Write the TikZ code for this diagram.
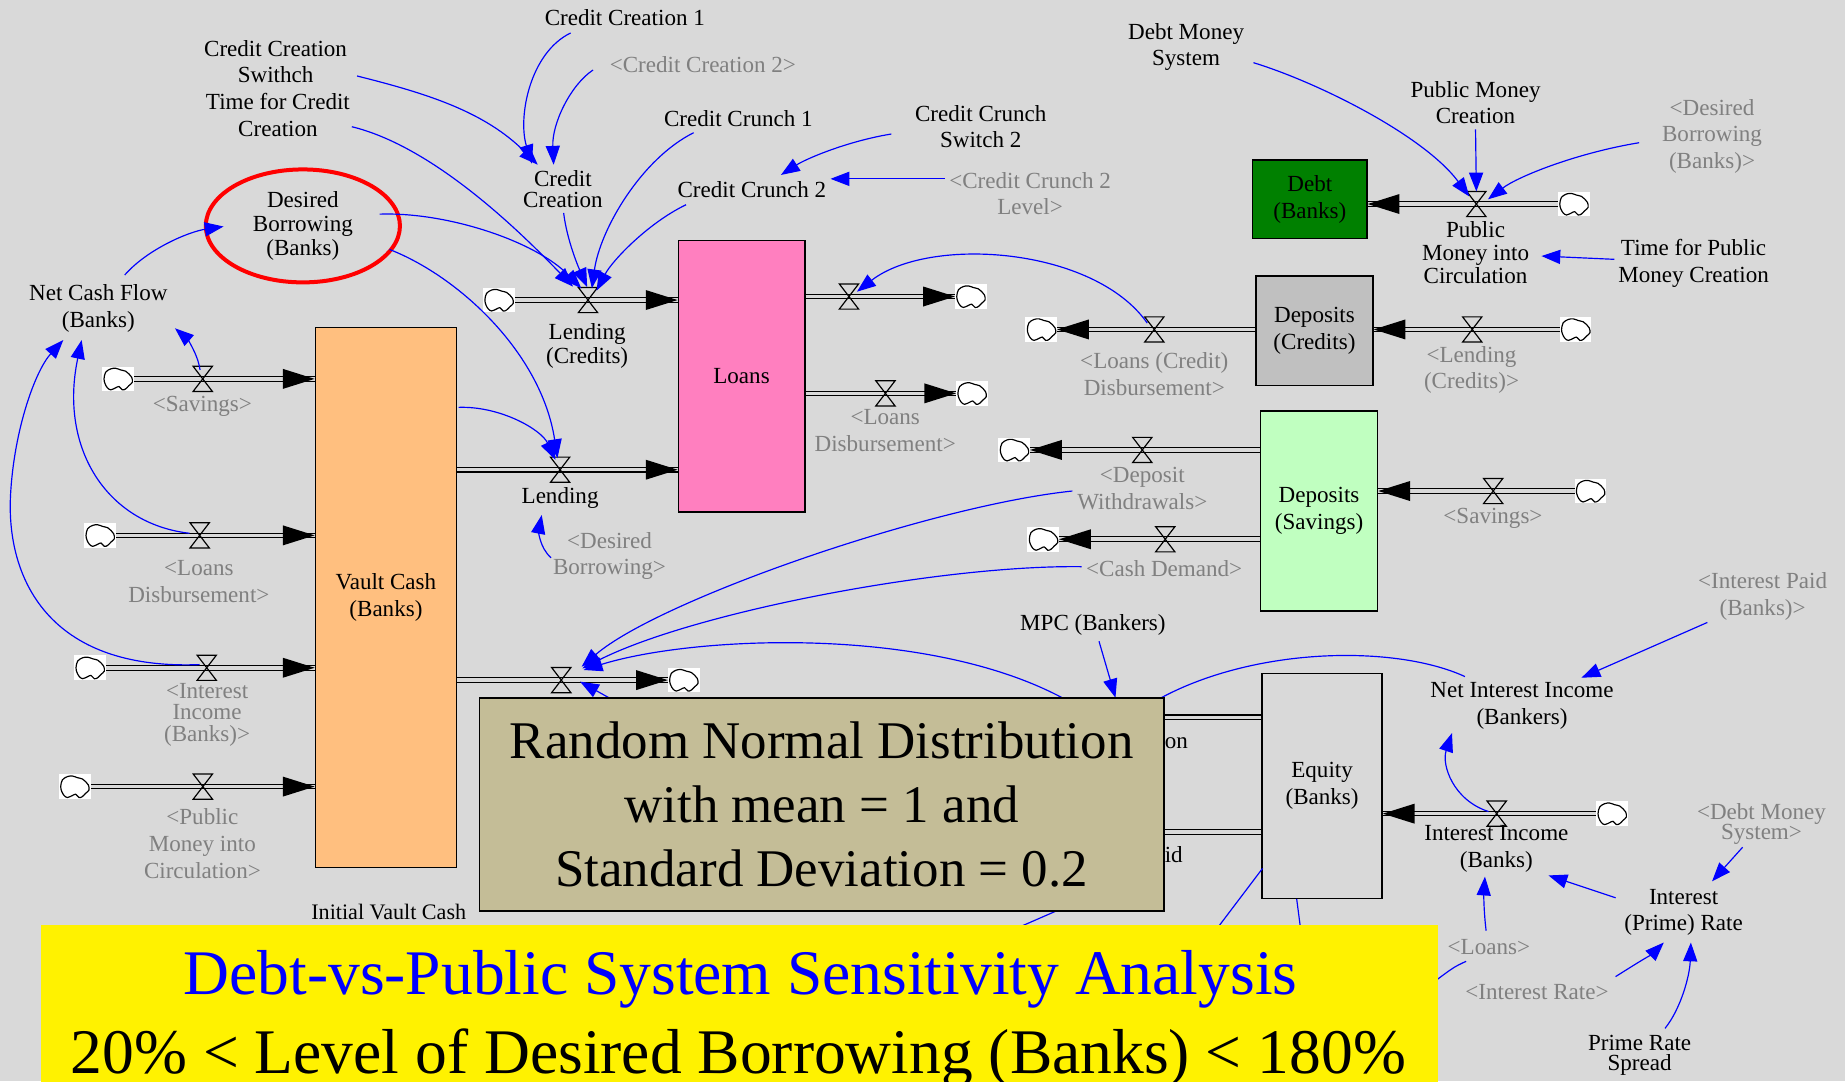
\documentclass[tikz,border=0pt]{standalone}
\usepackage{fontspec}
\setmainfont{Liberation Serif}
\usetikzlibrary{arrows.meta,shapes.geometric}

\definecolor{bgc}{RGB}{217,217,217}
\definecolor{txtgray}{RGB}{128,128,128}
\definecolor{linkblue}{RGB}{0,0,255}
\definecolor{vaultc}{RGB}{255,191,127}
\definecolor{loansc}{RGB}{255,127,191}
\definecolor{debtc}{RGB}{0,128,0}
\definecolor{depcredc}{RGB}{192,192,192}
\definecolor{depsavc}{RGB}{192,255,192}
\definecolor{notec}{RGB}{196,189,151}

\newcommand\tightlines{\lineskiplimit=-20pt\relax}

\tikzset{
  lbl/.style={align=center, inner sep=1pt, text=black, font=\fontsize{9.8}{11.35}\selectfont},
  ls/.style={font={\fontsize{9.8}{#1}\selectfont\tightlines}},
  glbl/.style={lbl, text=txtgray},
  stock/.style={draw=black, line width=0.6pt, rectangle, align=center, inner sep=1pt,
    font=\fontsize{9.8}{11.35}\selectfont},
  pipe/.style={draw=black, line width=0.45pt, double=bgc, double distance=1.5pt},
  valvenode/.style={inner sep=0pt, minimum width=7.8pt, minimum height=10.3pt},
  valveline/.style={draw=black, line width=0.5pt},
  cloudnode/.style={inner sep=0pt, minimum width=13pt, minimum height=10.5pt},
  link/.style={draw=linkblue, line width=0.5pt, -{Triangle[length=8pt,width=6pt]}},
  plainlink/.style={draw=linkblue, line width=0.5pt},
  cloudshape/.pic={
    \fill[white] (-13.5,-10.5) rectangle (13.5,10.5);
    \draw[line width=0.5pt, fill=white] plot[smooth cycle, tension=0.55] coordinates
      {(-10.5,-5.7) (-6.2,-8.5) (-2,-9) (2.3,-7.6) (6.5,-6.5) (9.3,-4.2) (11.6,-1.4)
       (12.2,2.8) (9.3,5.7) (6.5,8.5) (3.7,9.3) (0.8,6.5) (-2,7.6) (-6.2,9.3)
       (-9,7.6) (-11,4.2) (-11.9,0)};
  }
}

% flow heads: filled triangles with the tip on the given point
\newcommand\headR[1]{\fill[black] #1 -- ++(-27,-8.5) -- ++(0,17) -- cycle;}
\newcommand\headL[1]{\fill[black] #1 -- ++(27,-8.5) -- ++(0,17) -- cycle;}

\begin{document}
\begin{tikzpicture}[x=0.5pt,y=-0.5pt]
\useasboundingbox (0,0) rectangle (1568,919);
\fill[bgc] (0,0) rectangle (1568,919);

% ---------- stocks ----------
\node[stock, fill=vaultc, minimum width=60pt, minimum height=229.5pt] (vault) at (328,508) {Vault Cash\\(Banks)};
\node[stock, fill=loansc, minimum width=53.8pt, minimum height=115.25pt] (loans) at (630.2,319.75) {Loans};
\node[stock, fill=debtc, minimum width=48.55pt, minimum height=33.25pt] (debt) at (1113.2,169.25) {Debt\\(Banks)};
\node[stock, fill=depcredc, minimum width=49.7pt, minimum height=46.6pt] (depcred) at (1117.1,281.2) {Deposits\\(Credits)};
\node[stock, fill=depsavc, minimum width=49.75pt, minimum height=85pt] (depsav) at (1121,434.3) {Deposits\\(Savings)};
\node[stock, fill=bgc, minimum width=51pt, minimum height=95.6pt] (equity) at (1123.6,667.8) {Equity\\(Banks)};

% ---------- clouds (sources and sinks) ----------
\node[cloudnode] (cSav1) at (100.3,322) {};
\node[cloudnode] (cLD1) at (85,455) {};
\node[cloudnode] (cII1) at (76.5,567.5) {};
\node[cloudnode] (cPM1) at (63.5,668.5) {};
\node[cloudnode] (cLC) at (424,255) {};
\node[cloudnode] (cVO) at (581,578) {};
\node[cloudnode] (cLO1) at (825,252) {};
\node[cloudnode] (cLO2) at (826,334.3) {};
\node[cloudnode] (cLCD) at (885,280) {};
\node[cloudnode] (cLC2) at (1339,280) {};
\node[cloudnode] (cPM) at (1337.5,173.4) {};
\node[cloudnode] (cDW) at (862,382.4) {};
\node[cloudnode] (cCD) at (886.7,458.3) {};
\node[cloudnode] (cSav2) at (1351.6,417.3) {};
\node[cloudnode] (cII2) at (1370,691.5) {};

% ---------- valves ----------
\node[valvenode] (vSav1) at (172.3,322) {};
\node[valvenode] (vLD1) at (169.7,455) {};
\node[valvenode] (vII1) at (175.7,567.5) {};
\node[valvenode] (vPM1) at (172.4,668.5) {};
\node[valvenode] (vLC) at (499.7,255) {};
\node[valvenode] (vLend) at (476,399.2) {};
\node[valvenode] (vVO) at (477,578) {};
\node[valvenode] (vLO1) at (721.5,252) {};
\node[valvenode] (vLO2) at (752.5,334.3) {};
\node[valvenode] (vLCD) at (981,280) {};
\node[valvenode] (vLC2) at (1251.2,280) {};
\node[valvenode] (vPM) at (1254.7,173.4) {};
\node[valvenode] (vDW) at (970.8,382.4) {};
\node[valvenode] (vCD) at (990.3,458.3) {};
\node[valvenode] (vSav2) at (1269,417.3) {};
\node[valvenode] (vII2) at (1272,691.5) {};

% pipe ends that run under the note box
\coordinate (hP1) at (900,609.6);
\coordinate (hP2) at (900,707.3);

% ---------- pipes ----------
\draw[pipe] (cSav1) -- (vault.west |- cSav1);
\draw[pipe] (cLD1) -- (vault.west |- cLD1);
\draw[pipe] (cII1) -- (vault.west |- cII1);
\draw[pipe] (cPM1) -- (vault.west |- cPM1);
\draw[pipe] (cLC) -- (loans.west |- cLC);
\draw[pipe] (vault.east |- vLend) -- (loans.west |- vLend);
\draw[pipe] (vault.east |- vVO) -- (cVO);
\draw[pipe] (loans.east |- vLO1) -- (cLO1);
\draw[pipe] (loans.east |- vLO2) -- (cLO2);
\draw[pipe] (depcred.west |- vLCD) -- (cLCD);
\draw[pipe] (cLC2) -- (depcred.east |- vLC2);
\draw[pipe] (cPM) -- (debt.east |- vPM);
\draw[pipe] (depsav.west |- vDW) -- (cDW);
\draw[pipe] (depsav.west |- vCD) -- (cCD);
\draw[pipe] (cSav2) -- (depsav.east |- vSav2);
\draw[pipe] (equity.west |- hP1) -- (hP1);
\draw[pipe] (equity.west |- hP2) -- (hP2);
\draw[pipe] (cII2) -- (equity.east |- vII2);

% ---------- flow heads ----------
\headR{(vault.west |- vSav1)}
\headR{(vault.west |- vLD1)}
\headR{(vault.west |- vII1)}
\headR{(vault.west |- vPM1)}
\headR{(loans.west |- vLC)}
\headR{(loans.west |- vLend)}
\headR{(cVO.west)}
\headR{(cLO1.west)}
\headR{(cLO2.west)}
\headL{(cLCD.east)}
\headL{(depcred.east |- vLC2)}
\headL{(debt.east |- vPM)}
\headL{(cDW.east)}
\headL{(cCD.east)}
\headL{(depsav.east |- vSav2)}
\headL{(equity.east |- vII2)}

% ---------- cloud icons and valve symbols ----------
\foreach \c in {cSav1,cLD1,cII1,cPM1,cLC,cVO,cLO1,cLO2,cLCD,cLC2,cPM,cDW,cCD,cSav2,cII2}
  \pic at (\c) {cloudshape};
\foreach \v in {vSav1,vLD1,vII1,vPM1,vLC,vLend,vVO,vLO1,vLO2,vLCD,vLC2,vPM,vDW,vCD,vSav2,vII2}
  \draw[valveline] (\v.north west) -- (\v.north east) -- (\v.south west) -- (\v.south east) -- cycle;

% ---------- variables ----------
\node[lbl] (cc1) at (531,15) {Credit Creation 1};
\node[glbl] (cc2g) at (597.3,55.2) {<Credit Creation 2>};
\node[lbl] (ccs) at (234.2,52.3) {Credit Creation\\Swithch};
\node[lbl] (tcc) at (236.2,97.7) {Time for Credit\\Creation};
\node[lbl, ls=9pt] (cc) at (478.4,161) {Credit\\Creation};
\node[lbl] (ccr1) at (627.5,100.6) {Credit Crunch 1};
\node[lbl] (ccs2) at (833.5,107.6) {Credit Crunch\\Switch 2};
\node[lbl] (ccr2) at (639,161.5) {Credit Crunch 2};
\node[glbl] (ccl) at (875.4,164.6) {<Credit Crunch 2\\Level>};
\node[lbl] (dms) at (1008,40) {Debt Money\\System};
\node[lbl] (pmc) at (1254,87.2) {Public Money\\Creation};
\node[glbl] (dbg) at (1455,115.8) {<Desired\\Borrowing\\(Banks)>};
\node[lbl, ls=9.75pt] (pmic) at (1254,215) {Public\\Money into\\Circulation};
\node[lbl] (tpmc) at (1439.3,224.1) {Time for Public\\Money Creation};
\node[ellipse, draw=red, line width=1.7pt, minimum width=82.5pt, minimum height=48pt,
      inner sep=0pt, align=center, font={\fontsize{9.8}{10.3}\selectfont}] (db) at (257.4,192) {Desired\\Borrowing\\(Banks)};
\node[lbl] (ncf) at (83.6,262) {Net Cash Flow\\(Banks)};
\node[lbl, ls=10.6pt] (lc) at (499,294) {Lending\\(Credits)};
\node[glbl] (sav1) at (172,345) {<Savings>};
\node[glbl] (ld1) at (169,494.5) {<Loans\\Disbursement>};
\node[glbl, ls=9.25pt] (iib) at (176,607.5) {<Interest\\Income\\(Banks)>};
\node[glbl] (pmicg) at (172,717) {<Public\\Money into\\Circulation>};
\node[lbl] (lend) at (476,423) {Lending};
\node[glbl] (dbg2) at (518,472.4) {<Desired\\Borrowing>};
\node[glbl] (ld2) at (752.3,366) {<Loans\\Disbursement>};
\node[glbl] (lcd) at (981,318) {<Loans (Credit)\\Disbursement>};
\node[glbl] (lcg) at (1250.6,314.4) {<Lending\\(Credits)>};
\node[glbl] (dw) at (970.8,415.3) {<Deposit\\Withdrawals>};
\node[glbl] (cd) at (989.4,483.6) {<Cash Demand>};
\node[glbl] (sav2) at (1268.8,440.5) {<Savings>};
\node[glbl] (ipb) at (1498,507) {<Interest Paid\\(Banks)>};
\node[lbl] (mpc) at (928.8,531) {MPC (Bankers)};
\node[lbl] (nii) at (1293.5,600) {Net Interest Income\\(Bankers)};
\node[lbl] (iiBanks) at (1271.7,721.3) {Interest Income\\(Banks)};
\node[glbl, ls=8.5pt] (dmsg) at (1497,700.3) {<Debt Money\\System>};
\node[lbl] (ipr) at (1430.8,775.5) {Interest\\(Prime) Rate};
\node[glbl] (loansg) at (1265.3,804.5) {<Loans>};
\node[glbl] (irg) at (1306.2,842.8) {<Interest Rate>};
\node[lbl, ls=8.5pt] (prs) at (1393.4,896.5) {Prime Rate\\Spread};
\node[lbl, font={\fontsize{9.4}{11}\selectfont}] (ivc) at (330.4,774.8) {Initial Vault Cash};

% link ends hidden under the boxes
\coordinate (hA) at (915,600);
\coordinate (hB) at (530,600);
\coordinate (hC) at (948,593);
\coordinate (hD) at (960,610);
\coordinate (hE) at (1205,845);
\coordinate (hF) at (1020,808);
\coordinate (hG) at (1108,810);
\coordinate (hH) at (905,771);
\coordinate (hI) at (850,795);
\coordinate (mII) at (9,420);

% ---------- causal links ----------
\draw[link] ([shift={(69.3,12.3)}]ccs.center) .. controls (363.5,79.6) and (412,95) .. ([shift={(-21.4,-21)}]cc.center);
\draw[link] ([shift={(-46,13)}]cc1.center) .. controls (450,45) and (440,100) .. ([shift={(-26.4,-22)}]cc.center);
\draw[link] ([shift={(-93.3,4.3)}]cc2g.center) .. controls (485,72) and (469,105) .. ([shift={(-7.9,-21)}]cc.center);
\draw[link] ([shift={(62.8,10)}]tcc.center) .. controls (370,125) and (445,200) .. ([shift={(-12.7,-11.4)}]vLC.center);
\draw[link] ([shift={(65.2,-10)}]db.center) .. controls (380,180) and (455,205) .. ([shift={(-5.7,-10)}]vLC.center);
\draw[link] ([shift={(0.6,20)}]cc.center) .. controls (482,205) and (492,228) .. ([shift={(-0.7,-11)}]vLC.center);
\draw[link] ([shift={(-38,12.2)}]ccr1.center) .. controls (545,135) and (510,195) .. ([shift={(3.3,-10)}]vLC.center);
\draw[link] ([shift={(-56,12.5)}]ccr2.center) .. controls (550,190) and (520,222) .. ([shift={(7.3,-8)}]vLC.center);
\draw[link] ([shift={(-76,6.3)}]ccs2.center) .. controls (720,120) and (685,135) .. ([shift={(24.7,-12.8)}]ccr2.center);
\draw[link] ([shift={(-72.4,-12.6)}]ccl.center) -- ([shift={(66.8,-9.5)}]ccr2.center);
\draw[link] ([shift={(73.6,20)}]db.center) .. controls (390,235) and (460,300) .. ([shift={(-2.2,-9.9)}]vLend.center);
\draw[link] ([shift={(61.8,-161.8)}]vault.center) .. controls (425,345) and (460,365) .. ([shift={(-4,-8.4)}]vLend.center);
\draw[link] ([shift={(-49.7,1.6)}]dbg2.center) .. controls (458,465) and (458,450) .. ([shift={(-15.6,14.7)}]lend.center);
\draw[link] ([shift={(22.4,-28.3)}]ncf.center) .. controls (125,212) and (160,197) .. ([shift={(-67.4,0.5)}]db.center);
\draw[link] ([shift={(-2.3,-7.6)}]vSav1.center) .. controls (168,300) and (158,287) .. ([shift={(65.1,17)}]ncf.center);
\draw[link] ([shift={(-8.7,-1.8)}]vLD1.center) .. controls (90,445) and (50,380) .. ([shift={(-14.2,27)}]ncf.center);
\draw[link] ([shift={(-6,-2.7)}]vII1.center) .. controls (40,570) and (5,490) .. (mII)
   .. controls (12,365) and (30,315) .. ([shift={(-29.8,27)}]ncf.center);
\draw[link] ([shift={(-6,-5.4)}]vLCD.center) .. controls (930,210) and (790,200) .. ([shift={(6.8,-4.1)}]vLO1.center);
\draw[link] ([shift={(57.3,13.3)}]dms.center) .. controls (1120,70) and (1210,115) .. ([shift={(-6,-6.4)}]vPM.center);
\draw[link] ([shift={(0,22.8)}]pmc.center) -- (vPM.north);
\draw[link] ([shift={(-62,5.5)}]dbg.center) .. controls (1340,130) and (1290,150) .. ([shift={(9.9,-4)}]vPM.center);
\draw[link] ([shift={(-67.3,-3.7)}]tpmc.center) -- ([shift={(56,2.6)}]pmic.center);
\draw[link] ([shift={(-59.4,2)}]dw.center) .. controls (790,430) and (560,510) .. ([shift={(17.3,-11.4)}]vVO.center);
\draw[link] ([shift={(-70.2,-2)}]cd.center) .. controls (800,480) and (590,520) .. ([shift={(18,-10)}]vVO.center);
\draw[link] (hA) .. controls (800,530) and (590,540) .. ([shift={(19,-8.6)}]vVO.center);
\draw[link] (hB) -- ([shift={(16,1.3)}]vVO.center);
\draw[link] ([shift={(5.2,14)}]mpc.center) -- (hC);
\draw[plainlink] ([shift={(-48.5,-25)}]nii.center) .. controls (1180,545) and (1040,550) .. (hD);
\draw[link] ([shift={(-7,-1.8)}]vII2.center) .. controls (1235,680) and (1225,650) .. ([shift={(-59.5,23)}]nii.center);
\draw[link] ([shift={(-47,22)}]ipb.center) -- ([shift={(50.5,-24)}]nii.center);
\draw[link] ([shift={(-2.3,-13.5)}]loansg.center) .. controls (1261,775) and (1261,760) .. ([shift={(-9.7,23.7)}]iiBanks.center);
\draw[link] ([shift={(-57.8,-12.5)}]ipr.center) -- ([shift={(44.3,22.7)}]iiBanks.center);
\draw[link] ([shift={(-16,19.7)}]dmsg.center) -- ([shift={(24.2,-26.5)}]ipr.center);
\draw[link] ([shift={(66.8,-12.8)}]irg.center) .. controls (1392,818) and (1405,810) .. ([shift={(-16.8,25.5)}]ipr.center);
\draw[link] ([shift={(21.6,-22.5)}]prs.center) .. controls (1428,858) and (1436,830) .. ([shift={(6.2,25.5)}]ipr.center);
\draw[plainlink] ([shift={(-19.3,12.5)}]loansg.center) .. controls (1235,822) .. (hE);
\draw[plainlink] ([shift={(-50.6,70.2)}]equity.center) -- (hF);
\draw[plainlink] ([shift={(-21.6,0)}]equity.south) -- (hG);
\draw[plainlink] (hH) -- (hI);

% ---------- labels of the flows leaving Equity ----------
\node[lbl, anchor=west, inner sep=0pt] (onlbl) at (989.5,632) {on};
\node[lbl, anchor=west, inner sep=0pt] (idlbl) at (989.5,726) {id};

% ---------- note box ----------
\node[draw=black, line width=0.7pt, fill=notec, minimum width=290.9pt, minimum height=90.6pt,
      align=center, inner sep=0pt, font={\fontsize{22.5}{27.25}\selectfont}] (note) at (698.3,683.6)
  {Random Normal Distribution\\with mean = 1 and\\Standard Deviation = 0.2};

% ---------- title banner ----------
\node[fill=yellow, inner sep=0pt, minimum width=593.7pt, minimum height=70pt] (banner) at (628.6,856) {};
\node[anchor=base, text=linkblue, inner sep=0pt, font={\fontsize{27}{33}\selectfont}] (title1) at (629.3,845.6)
  {Debt-vs-Public System Sensitivity Analysis};
\node[anchor=base, text=black, inner sep=0pt, font={\fontsize{27}{33}\selectfont}] (title2) at (627.5,912)
  {20\% < Level of Desired Borrowing (Banks) < 180\%};
\end{tikzpicture}
\end{document}
